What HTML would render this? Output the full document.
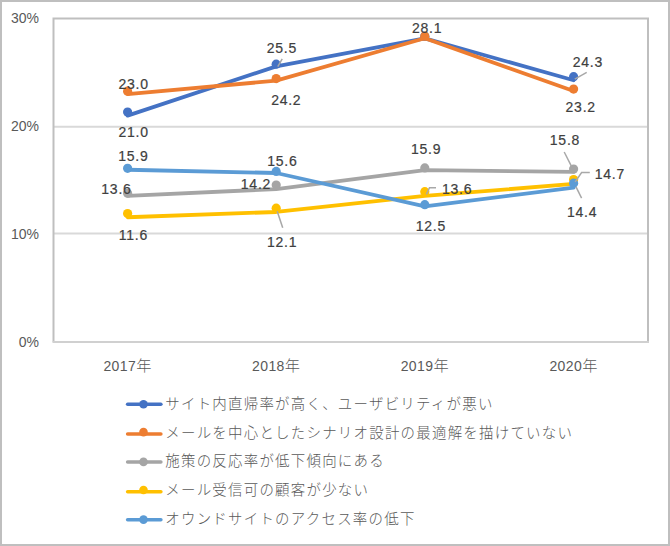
<!DOCTYPE html><html><head><meta charset="utf-8"><style>html,body{margin:0;padding:0;background:#fff;width:670px;height:546px;overflow:hidden}svg{position:absolute;left:0;top:0}text{font-family:"Liberation Sans","Noto Sans CJK JP",sans-serif}</style></head><body>
<svg width="670" height="546" viewBox="0 0 670 546">
<rect x="1" y="1" width="668" height="544" fill="#fff" stroke="#BFBFBF" stroke-width="2"/>
<line x1="53.5" y1="126.8" x2="648" y2="126.8" stroke="#D9D9D9" stroke-width="2"/>
<line x1="53.5" y1="233.5" x2="648" y2="233.5" stroke="#D9D9D9" stroke-width="2"/>
<path d="M53.5,341.8 V18.5 H648 V341.8" fill="none" stroke="#BFBFBF" stroke-width="2"/>
<line x1="52.5" y1="341.9" x2="649" y2="341.9" stroke="#D0D0D0" stroke-width="2"/>
<text x="39" y="23" font-size="14" fill="#595959" text-anchor="end">30%</text>
<text x="39" y="130.6" font-size="14" fill="#595959" text-anchor="end">20%</text>
<text x="39" y="238.7" font-size="14" fill="#595959" text-anchor="end">10%</text>
<text x="39" y="346.8" font-size="14" fill="#595959" text-anchor="end">0%</text>
<text x="127.6" y="370.5" font-size="14" letter-spacing="0.4" fill="#595959" text-anchor="middle">2017<tspan font-size="15.2" font-weight="300" font-family="Liberation Sans, Noto Sans CJK JP, sans-serif">年</tspan></text>
<text x="276.2" y="370.5" font-size="14" letter-spacing="0.4" fill="#595959" text-anchor="middle">2018<tspan font-size="15.2" font-weight="300" font-family="Liberation Sans, Noto Sans CJK JP, sans-serif">年</tspan></text>
<text x="424.8" y="370.5" font-size="14" letter-spacing="0.4" fill="#595959" text-anchor="middle">2019<tspan font-size="15.2" font-weight="300" font-family="Liberation Sans, Noto Sans CJK JP, sans-serif">年</tspan></text>
<text x="573.6" y="370.5" font-size="14" letter-spacing="0.4" fill="#595959" text-anchor="middle">2020<tspan font-size="15.2" font-weight="300" font-family="Liberation Sans, Noto Sans CJK JP, sans-serif">年</tspan></text>
<polyline points="127.6,115.63 276.2,66.37 424.8,38.36 573.6,80.29" fill="none" stroke="#4472C4" stroke-width="3.8" stroke-linejoin="round" stroke-linecap="round"/>
<circle cx="127.6" cy="112.1" r="4.6" fill="#4472C4"/>
<circle cx="276.2" cy="64.2" r="4.6" fill="#4472C4"/>
<circle cx="424.8" cy="36.2" r="4.6" fill="#4472C4"/>
<circle cx="573.6" cy="76.7" r="4.6" fill="#4472C4"/>
<polyline points="127.6,94.09 276.2,80.67 424.8,38.26 573.6,90.94" fill="none" stroke="#ED7D31" stroke-width="3.8" stroke-linejoin="round" stroke-linecap="round"/>
<circle cx="127.6" cy="91.2" r="4.6" fill="#ED7D31"/>
<circle cx="276.2" cy="78.6" r="4.6" fill="#ED7D31"/>
<circle cx="424.8" cy="36.2" r="4.6" fill="#ED7D31"/>
<circle cx="573.6" cy="89.1" r="4.6" fill="#ED7D31"/>
<polyline points="127.6,195.83 276.2,189.07 424.8,170.06 573.6,171.93" fill="none" stroke="#A5A5A5" stroke-width="3.8" stroke-linejoin="round" stroke-linecap="round"/>
<circle cx="127.6" cy="193.2" r="4.6" fill="#A5A5A5"/>
<circle cx="276.2" cy="185.1" r="4.6" fill="#A5A5A5"/>
<circle cx="424.8" cy="167.9" r="4.6" fill="#A5A5A5"/>
<circle cx="573.6" cy="169.0" r="4.6" fill="#A5A5A5"/>
<polyline points="127.6,217.27 276.2,211.98 424.8,195.93 573.6,183.98" fill="none" stroke="#FFC000" stroke-width="3.8" stroke-linejoin="round" stroke-linecap="round"/>
<circle cx="127.6" cy="213.5" r="4.6" fill="#FFC000"/>
<circle cx="276.2" cy="208.2" r="4.6" fill="#FFC000"/>
<circle cx="424.8" cy="191.7" r="4.6" fill="#FFC000"/>
<circle cx="573.6" cy="179.5" r="4.6" fill="#FFC000"/>
<polyline points="127.6,169.76 276.2,172.99 424.8,206.38 573.6,187.51" fill="none" stroke="#5B9BD5" stroke-width="3.8" stroke-linejoin="round" stroke-linecap="round"/>
<circle cx="127.6" cy="168.3" r="4.6" fill="#5B9BD5"/>
<circle cx="276.2" cy="171.4" r="4.6" fill="#5B9BD5"/>
<circle cx="424.8" cy="204.7" r="4.6" fill="#5B9BD5"/>
<circle cx="573.6" cy="183.2" r="4.6" fill="#5B9BD5"/>
<polyline points="277.8,66.6 282.2,58.8" fill="none" stroke="#A8A8A8" stroke-width="1.5"/>
<polyline points="277.2,211.3 282.7,227.8" fill="none" stroke="#A8A8A8" stroke-width="1.5"/>
<polyline points="426.4,194.4 429.5,187.8 436,187.8" fill="none" stroke="#A8A8A8" stroke-width="1.5"/>
<polyline points="574.8,79.2 586.7,72.4" fill="none" stroke="#A8A8A8" stroke-width="1.5"/>
<polyline points="571.5,166.3 564.2,152" fill="none" stroke="#A8A8A8" stroke-width="1.5"/>
<polyline points="575.2,181.9 581.6,172.5 589.8,172.5" fill="none" stroke="#A8A8A8" stroke-width="1.5"/>
<polyline points="576,186.8 581.6,198.2" fill="none" stroke="#A8A8A8" stroke-width="1.5"/>
<text x="133.6" y="89" font-size="14" letter-spacing="0.75" fill="#404040" stroke="#404040" stroke-width="0.2" text-anchor="middle">23.0</text>
<text x="133.6" y="137" font-size="14" letter-spacing="0.75" fill="#404040" stroke="#404040" stroke-width="0.2" text-anchor="middle">21.0</text>
<text x="133.35" y="161" font-size="14" letter-spacing="0.75" fill="#404040" stroke="#404040" stroke-width="0.2" text-anchor="middle">15.9</text>
<text x="116.44999999999999" y="194.4" font-size="14" letter-spacing="0.75" fill="#404040" stroke="#404040" stroke-width="0.2" text-anchor="middle">13.6</text>
<text x="133.35" y="239.5" font-size="14" letter-spacing="0.75" fill="#404040" stroke="#404040" stroke-width="0.2" text-anchor="middle">11.6</text>
<text x="281.85" y="53" font-size="14" letter-spacing="0.75" fill="#404040" stroke="#404040" stroke-width="0.2" text-anchor="middle">25.5</text>
<text x="286.25" y="105" font-size="14" letter-spacing="0.75" fill="#404040" stroke="#404040" stroke-width="0.2" text-anchor="middle">24.2</text>
<text x="282.35" y="166.2" font-size="14" letter-spacing="0.75" fill="#404040" stroke="#404040" stroke-width="0.2" text-anchor="middle">15.6</text>
<text x="255.95" y="188.7" font-size="14" letter-spacing="0.75" fill="#404040" stroke="#404040" stroke-width="0.2" text-anchor="middle">14.2</text>
<text x="282.1" y="246.7" font-size="14" letter-spacing="0.75" fill="#404040" stroke="#404040" stroke-width="0.2" text-anchor="middle">12.1</text>
<text x="427.15000000000003" y="33.2" font-size="14" letter-spacing="0.75" fill="#404040" stroke="#404040" stroke-width="0.2" text-anchor="middle">28.1</text>
<text x="426.15000000000003" y="154.3" font-size="14" letter-spacing="0.75" fill="#404040" stroke="#404040" stroke-width="0.2" text-anchor="middle">15.9</text>
<text x="457.1" y="194.1" font-size="14" letter-spacing="0.75" fill="#404040" stroke="#404040" stroke-width="0.2" text-anchor="middle">13.6</text>
<text x="430.8" y="230.9" font-size="14" letter-spacing="0.75" fill="#404040" stroke="#404040" stroke-width="0.2" text-anchor="middle">12.5</text>
<text x="587.85" y="66.9" font-size="14" letter-spacing="0.75" fill="#404040" stroke="#404040" stroke-width="0.2" text-anchor="middle">24.3</text>
<text x="580.7" y="111.8" font-size="14" letter-spacing="0.75" fill="#404040" stroke="#404040" stroke-width="0.2" text-anchor="middle">23.2</text>
<text x="564.95" y="144.7" font-size="14" letter-spacing="0.75" fill="#404040" stroke="#404040" stroke-width="0.2" text-anchor="middle">15.8</text>
<text x="609.85" y="179.1" font-size="14" letter-spacing="0.75" fill="#404040" stroke="#404040" stroke-width="0.2" text-anchor="middle">14.7</text>
<text x="582.0500000000001" y="217" font-size="14" letter-spacing="0.75" fill="#404040" stroke="#404040" stroke-width="0.2" text-anchor="middle">14.4</text>
<line x1="127.6" y1="404.2" x2="160.9" y2="404.2" stroke="#4472C4" stroke-width="3.5" stroke-linecap="round"/>
<circle cx="143.5" cy="404.3" r="4.3" fill="#4472C4"/>
<text x="165.3" y="409.3" font-size="14.45" letter-spacing="1.25" font-weight="300" fill="#595959" font-family="Liberation Sans, Noto Sans CJK JP, sans-serif">サイト内直帰率が高く、ユーザビリティが悪い</text>
<line x1="127.6" y1="434" x2="160.9" y2="434" stroke="#ED7D31" stroke-width="3.5" stroke-linecap="round"/>
<circle cx="143.5" cy="432.1" r="4.3" fill="#ED7D31"/>
<text x="165.3" y="438.2" font-size="14.45" letter-spacing="1.25" font-weight="300" fill="#595959" font-family="Liberation Sans, Noto Sans CJK JP, sans-serif">メールを中心としたシナリオ設計の最適解を描けていない</text>
<line x1="127.6" y1="462" x2="160.9" y2="462" stroke="#A5A5A5" stroke-width="3.5" stroke-linecap="round"/>
<circle cx="143.5" cy="461.9" r="4.3" fill="#A5A5A5"/>
<text x="165.3" y="466.4" font-size="14.45" letter-spacing="1.25" font-weight="300" fill="#595959" font-family="Liberation Sans, Noto Sans CJK JP, sans-serif">施策の反応率が低下傾向にある</text>
<line x1="127.6" y1="491.8" x2="160.9" y2="491.8" stroke="#FFC000" stroke-width="3.5" stroke-linecap="round"/>
<circle cx="143.5" cy="490" r="4.3" fill="#FFC000"/>
<text x="165.3" y="495.2" font-size="14.45" letter-spacing="1.25" font-weight="300" fill="#595959" font-family="Liberation Sans, Noto Sans CJK JP, sans-serif">メール受信可の顧客が少ない</text>
<line x1="127.6" y1="519.7" x2="160.9" y2="519.7" stroke="#5B9BD5" stroke-width="3.5" stroke-linecap="round"/>
<circle cx="143.5" cy="519.6" r="4.3" fill="#5B9BD5"/>
<text x="165.3" y="524.0" font-size="14.45" letter-spacing="1.25" font-weight="300" fill="#595959" font-family="Liberation Sans, Noto Sans CJK JP, sans-serif">オウンドサイトのアクセス率の低下</text>
</svg></body></html>
